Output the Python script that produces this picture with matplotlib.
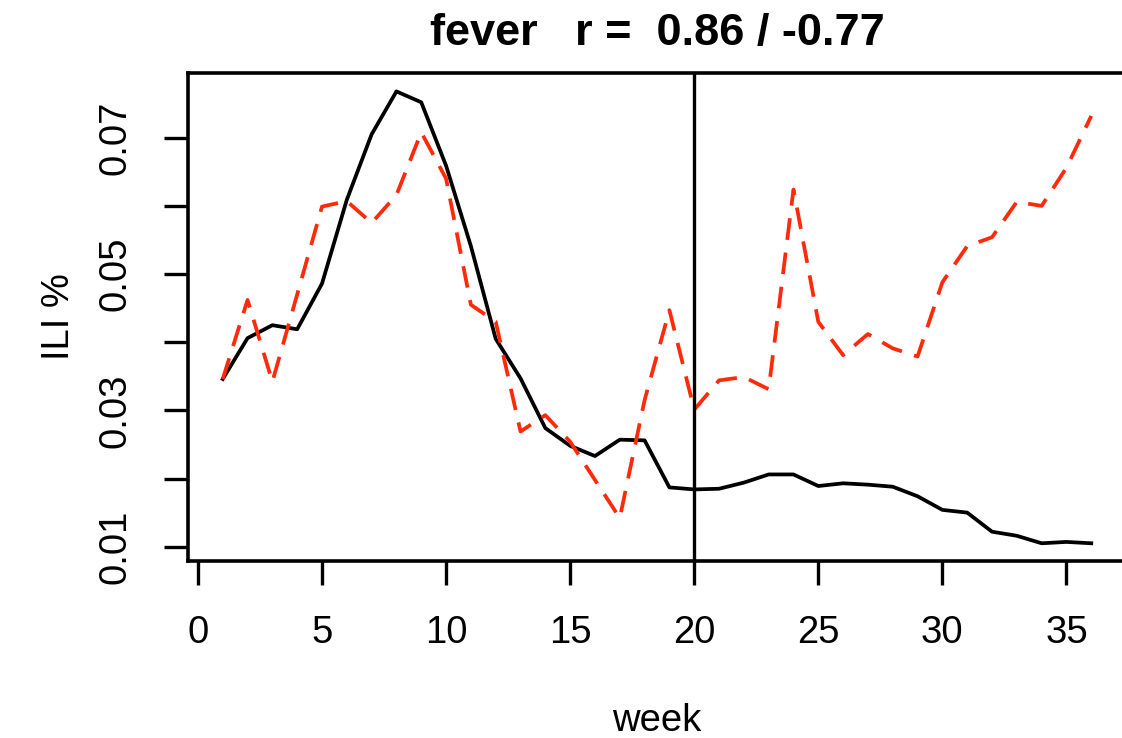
import numpy as np
import matplotlib
matplotlib.use('Agg')
import matplotlib.pyplot as plt

# weekly ILI % values
weeks = np.arange(1, 37)
ili_black = [0.0346, 0.0406, 0.0425, 0.0419, 0.0486, 0.0609, 0.0705, 0.0768, 0.0752,
             0.0659, 0.0541, 0.0405, 0.0347, 0.0274, 0.0248, 0.0233, 0.0257, 0.0256,
             0.0187, 0.0184, 0.0185, 0.0194, 0.0206, 0.0206, 0.0189, 0.0193, 0.0191,
             0.0188, 0.0174, 0.0154, 0.0150, 0.0122, 0.0116, 0.0105, 0.0107, 0.0105]
ili_red = [0.0346, 0.0462, 0.0342, 0.0470, 0.0599, 0.0607, 0.0575, 0.0616, 0.0708,
           0.0640, 0.0455, 0.0430, 0.0269, 0.0293, 0.0254, 0.0198, 0.0142, 0.0315,
           0.0447, 0.0301, 0.0344, 0.0349, 0.0331, 0.0624, 0.0430, 0.0381, 0.0412,
           0.0391, 0.0379, 0.0488, 0.0541, 0.0554, 0.0606, 0.0600, 0.0656, 0.0732]
split_week = 20
x_ticks = [0, 5, 10, 15, 20, 25, 30, 35]
y_ticks = [0.01, 0.02, 0.03, 0.04, 0.05, 0.06, 0.07]
y_tick_labels = ['0.01', '', '0.03', '', '0.05', '', '0.07']
title = 'fever   r =  0.86 / -0.77'

plt.rcParams['font.family'] = ['Liberation Sans', 'DejaVu Sans']

fig = plt.figure(figsize=(11.22, 7.38), dpi=100)
ax = fig.add_axes([188 / 1122, 1 - 561 / 738, (1126 - 188) / 1122, (561 - 73) / 738])

ax.plot(weeks, ili_black, color='black', linewidth=2.7)
ax.plot(weeks, ili_red, color='#ff2a0a', linewidth=2.7, dashes=(5.8, 3.4))
ax.axvline(split_week, color='black', linewidth=2.4)

ax.set_xlim(-0.4, 37.4)
ax.set_ylim(0.0079, 0.0795)

for s in ax.spines.values():
    s.set_linewidth(2.6)

ax.set_xticks(x_ticks)
ax.set_yticks(y_ticks)
ax.set_yticklabels(y_tick_labels, rotation=90, va='center')
ax.tick_params(axis='both', length=17, width=2.4, labelsize=27.5, pad=22)

ax.set_xlabel('week', fontsize=27.5, labelpad=37)
ax.set_ylabel('ILI %', fontsize=27.5, labelpad=15)
ax.set_title(title, fontsize=32.5, fontweight='bold', pad=20)

fig.savefig('out.png', dpi=100)
